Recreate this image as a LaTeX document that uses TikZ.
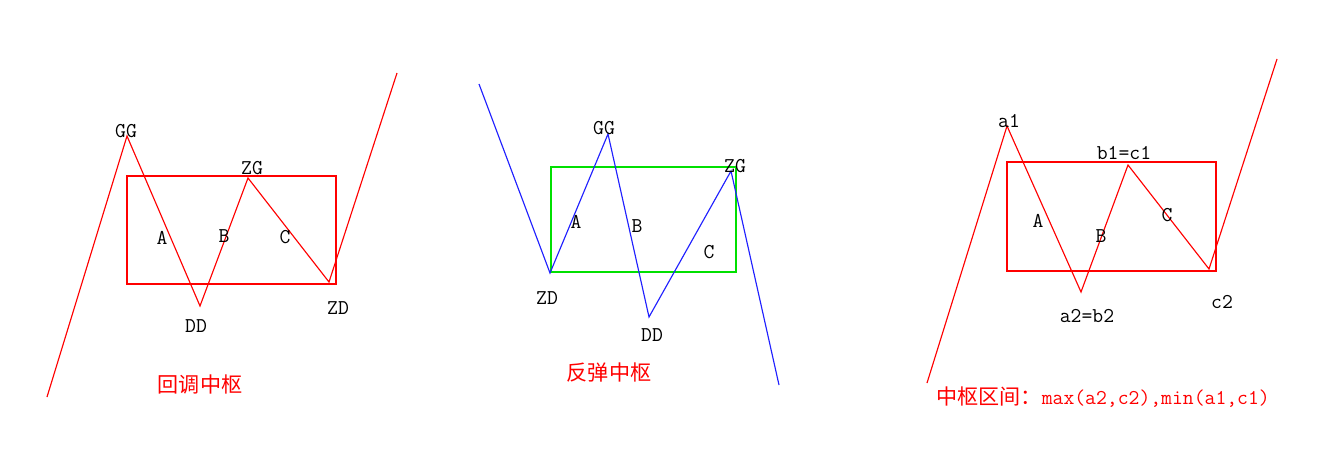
\documentclass[tikz,border=0pt]{standalone}
\usepackage{fontspec}
\newfontfamily\cjk{Noto Sans CJK SC}
\usetikzlibrary{positioning}
\definecolor{zsred}{HTML}{FF0000}
\definecolor{zsblue}{HTML}{2020FF}
\definecolor{zsgreen}{HTML}{00E000}

\begin{document}
\begin{tikzpicture}[
    x=0.02cm, y=-0.02cm,
    wave/.style={line width=0.65pt, draw=#1},
    wave/.default=zsred,
    zsbox/.style={line width=0.9pt, draw=#1},
    zsbox/.default=zsred,
    lbl/.style={font=\ttfamily\fontsize{12}{12}\selectfont, inner sep=0pt},
    title/.style={font=\cjk\fontsize{12}{12}\selectfont, text=zsred, inner sep=0pt},
]
\useasboundingbox (0,0) rectangle (1334,467);

% Panel 1: pullback pivot
\coordinate (s1) at (47,397);
\coordinate (gg1) at (127,136);
\coordinate (dd1) at (200,306);
\coordinate (zg1) at (248,178);
\coordinate (zd1) at (329,282);
\coordinate (e1) at (397,73);
\draw[zsbox] (127,176) rectangle (336,284);
\draw[wave] (s1) -- (gg1) -- (dd1) -- (zg1) -- (zd1) -- (e1);

\node[lbl] (gg1l) at (126,131) {GG};
\node[lbl] (zg1l) at (252,168) {ZG};
\node[lbl] (a1l) at (162,238) {A};
\node[lbl] (b1l) at (224,236) {B};
\node[lbl] (c1l) at (285,237) {C};
\node[lbl] (dd1l) at (196,326) {DD};
\node[lbl] (zd1l) at (338,308) {ZD};
\node[title] (t1) at (200,384) {回调中枢};

% Panel 2: rebound pivot
\coordinate (s2) at (479,84);
\coordinate (zd2) at (550,273);
\coordinate (gg2) at (608,134);
\coordinate (dd2) at (649,317);
\coordinate (zg2) at (731,171);
\coordinate (e2) at (779,385);
\draw[zsbox=zsgreen] (551,167) rectangle (736,272);
\draw[wave=zsblue] (s2) -- (zd2) -- (gg2) -- (dd2) -- (zg2) -- (e2);

\node[lbl] (gg2l) at (604,128) {GG};
\node[lbl] (zg2l) at (735,166) {ZG};
\node[lbl] (a2l) at (576,222) {A};
\node[lbl] (b2l) at (637,226) {B};
\node[lbl] (c2l) at (709,252) {C};
\node[lbl] (zd2l) at (547,298) {ZD};
\node[lbl] (dd2l) at (652,335) {DD};
\node[title] (t2) at (609,373) {反弹中枢};

% Panel 3: pivot range
\coordinate (s3) at (927,383);
\coordinate (pa1) at (1007,126);
\coordinate (pa2) at (1081,292);
\coordinate (pb1) at (1128,165);
\coordinate (pc2) at (1209,269);
\coordinate (e3) at (1277,59);
\draw[zsbox] (1007,162) rectangle (1216,271);
\draw[wave] (s3) -- (pa1) -- (pa2) -- (pb1) -- (pc2) -- (e3);

\node[lbl] (pa1l) at (1009,121) {a1};
\node[lbl] (pb1l) at (1124,153) {b1=c1};
\node[lbl] (a3l) at (1038,221) {A};
\node[lbl] (b3l) at (1101,236) {B};
\node[lbl] (c3l) at (1167,215) {C};
\node[lbl] (pa2l) at (1087,316) {a2=b2};
\node[lbl] (pc2l) at (1222,302) {c2};
\node[title, anchor=west] (t3) at (936,397) {中枢区间：{\ttfamily\fontsize{12}{12}\selectfont max(a2,c2),min(a1,c1)}};

\end{tikzpicture}
\end{document}
